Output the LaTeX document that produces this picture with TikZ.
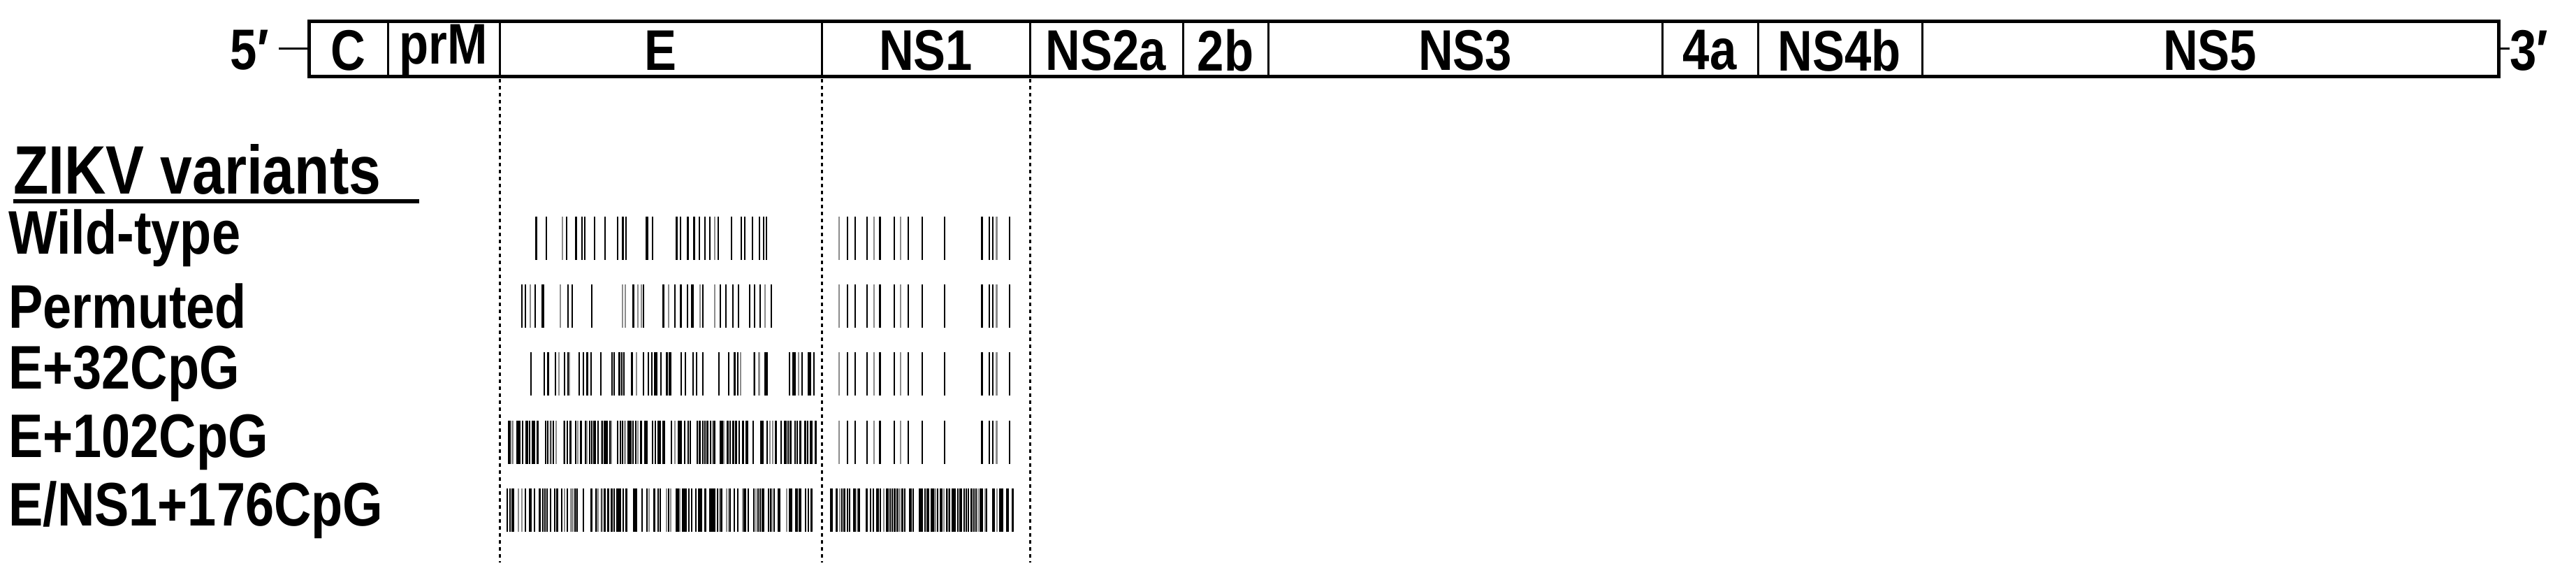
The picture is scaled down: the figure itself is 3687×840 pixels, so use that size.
\documentclass[tikz,border=0pt]{standalone}
\usepackage{fontspec}
\setmainfont{Liberation Sans}
\newfontfamily\narrowf[FakeStretch=0.84]{Liberation Sans}
\begin{document}
\begin{tikzpicture}[x=1pt,y=-1pt,
 lab/.style={font=\narrowf\fontsize{82}{88}\selectfont\bfseries,inner sep=0pt},
 row/.style={font=\narrowf\fontsize{88}{94}\selectfont\bfseries,inner sep=0pt,anchor=west},
 dot/.style={line width=3pt,dash pattern=on 5pt off 5pt}]
\useasboundingbox (0,0) rectangle (3687,840);
\newcommand\mybars[6]{%
 \pgfmathsetseed{#5}%
 \pgfmathsetmacro\stp{(#3-#2)/#4}%
 \foreach \i in {1,...,#4}{%
  \pgfmathsetmacro\keep{rnd<#6?1:0}%
  \pgfmathsetmacro\xx{#2+\stp*(\i-1+rnd)}%
  \pgfmathsetmacro\gg{rnd>0.85?45:100}%
  \ifdim\keep pt>0.5pt \draw[line width=2.2pt,black!\gg] (\xx,#1-31) -- (\xx,#1+31);\fi}}
% genome box
\draw[line width=5pt] (442,31) rectangle (3576,110);
\foreach \x in {555,715,1176,1474,1693,1815,2379,2516,2751}
  \draw[line width=3pt] (\x,31) -- (\x,110);
\node[lab] (c) at (498,72) {C};
\node[lab] (prm) at (635,72) {prM};
\node[lab] (e) at (945,72) {E};
\node[lab] (ns1) at (1325,72) {NS1};
\node[lab] (ns2a) at (1583,72) {NS2a};
\node[lab] (b2) at (1754,72) {2b};
\node[lab] (ns3) at (2097,72) {NS3};
\node[lab] (a4) at (2447,72) {4a};
\node[lab] (ns4b) at (2633,72) {NS4b};
\node[lab] (ns5) at (3163,72) {NS5};
\node[lab,anchor=east] (five) at (385,72) {5′};
\coordinate (boxl) at (442,70);
\coordinate (boxr) at (3576,70);
\draw[line width=3pt] (five.east) ++(14,-2) -- (boxl);
\node[lab,anchor=west] (three) at (3592,72) {3′};
\draw[line width=3pt] (boxr) -- (three.west |- boxr);
% variants
\node[row,font=\narrowf\fontsize{98}{104}\selectfont\bfseries] (zikv) at (19,242) {ZIKV variants};
\draw[line width=6pt] (zikv.south west) ++(0,10) -- ++(581,0);
\node[row] (wt) at (12,341) {Wild-type};
\node[row] (pm) at (12,438) {Permuted};
\node[row] (e32) at (12,535) {E+32CpG};
\node[row] (e102) at (12,633) {E+102CpG};
\node[row] (ens) at (12,730) {E/NS1+176CpG};
% dotted lines
\foreach \x in {715,1176,1474} \draw[dot] (\x,113) -- (\x,805);
% bars
\mybars{341}{752}{1140}{60}{11}{0.55}
\mybars{438}{745}{1135}{60}{22}{0.5}
\mybars{535}{752}{1168}{80}{33}{0.7}
\mybars{633}{725}{1168}{140}{44}{0.8}
\mybars{730}{725}{1168}{140}{55}{0.8}
\mybars{341}{1188}{1452}{40}{66}{0.5}
\mybars{438}{1188}{1452}{40}{66}{0.5}
\mybars{535}{1188}{1452}{40}{66}{0.5}
\mybars{633}{1188}{1452}{40}{66}{0.5}
\mybars{730}{1188}{1452}{90}{77}{0.85}
\end{tikzpicture}
\end{document}
